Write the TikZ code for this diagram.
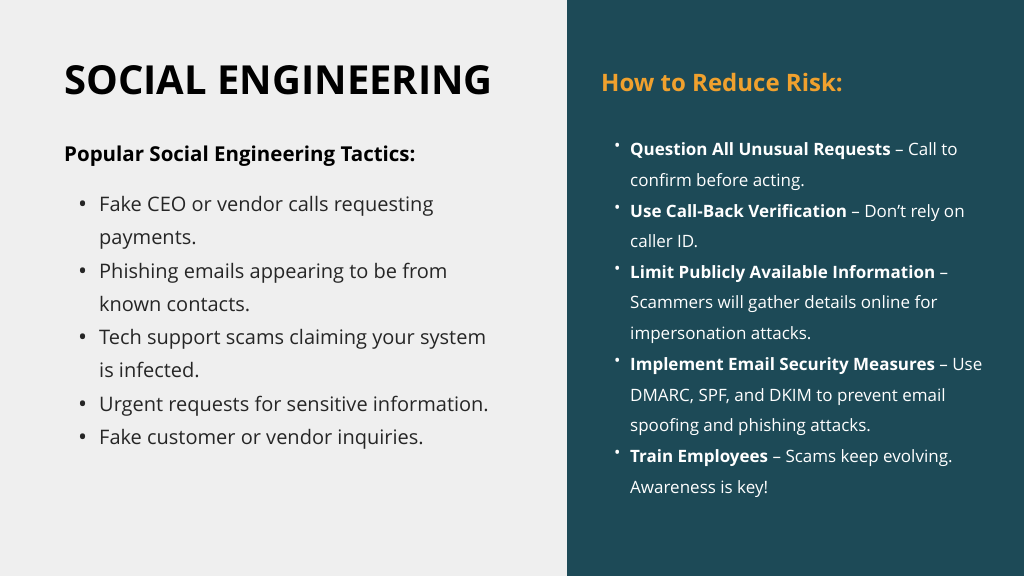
\documentclass[tikz,border=0pt]{standalone}
\usepackage{fontspec}
\setmainfont{Open Sans}
\definecolor{bgl}{HTML}{EFEFEF}
\definecolor{panel}{HTML}{1D4A57}
\definecolor{org}{HTML}{F0A12E}
\begin{document}
\begin{tikzpicture}[x=1pt,y=-1pt,
 lt/.style={anchor=base west,inner sep=0pt,font=\fontsize{20}{21}\selectfont,text=black!85},
 rt/.style={anchor=base west,inner sep=0pt,font=\fontsize{17}{18}\selectfont,text=white}]
\fill[bgl] (0,0) rectangle (1024,576);
\fill[panel] (567,0) rectangle (1024,576);
\useasboundingbox (0,0) rectangle (1024,576);
\node[anchor=base west,inner sep=0pt,font=\fontsize{40}{42}\selectfont\bfseries] (title) at (64,94) {SOCIAL ENGINEERING};
\node[anchor=base west,inner sep=0pt,font=\fontsize{20.5}{21}\selectfont\bfseries] (sub) at (64,161) {Popular Social Engineering Tactics:};
\foreach \y/\b/\t [count=\i] in {211/1/Fake CEO or vendor calls requesting,244/0/payments.,278/1/Phishing emails appearing to be from,311/0/known contacts.,344/1/Tech support scams claiming your system,377/0/is infected.,411/1/Urgent requests for sensitive information.,444/1/Fake customer or vendor inquiries.}{
 \node[lt] (l\i) at (99,\y) {\t};
 \ifnum\b=1 \node[lt,font=\fontsize{24}{24}\selectfont] (lb\i) at (78,\y+1) {•};\fi
}
\node[anchor=base west,inner sep=0pt,font=\fontsize{24}{25}\selectfont\bfseries,text=org] (rtitle) at (601,91) {How to Reduce Risk:};
\foreach \y/\b/\t [count=\i] in {
 155/1/{\textbf{Question All Unusual Requests} – Call to},
 186/0/{confirm before acting.},
 217/1/{\textbf{Use Call-Back Verification} – Don’t rely on},
 247/0/{caller ID.},
 278/1/{\textbf{Limit Publicly Available Information} –},
 308/0/{Scammers will gather details online for},
 339/0/{impersonation attacks.},
 370/1/{\textbf{Implement Email Security Measures} – Use},
 401/0/{DMARC, SPF, and DKIM to prevent email},
 431/0/{spoofing and phishing attacks.},
 462/1/{\textbf{Train Employees} – Scams keep evolving.},
 493/0/{Awareness is key!}}{
 \node[rt] (r\i) at (630,\y) {\t};
 \ifnum\b=1 \node[rt] (rb\i) at (614,\y-4) {•};\fi
}
\end{tikzpicture}
\end{document}
